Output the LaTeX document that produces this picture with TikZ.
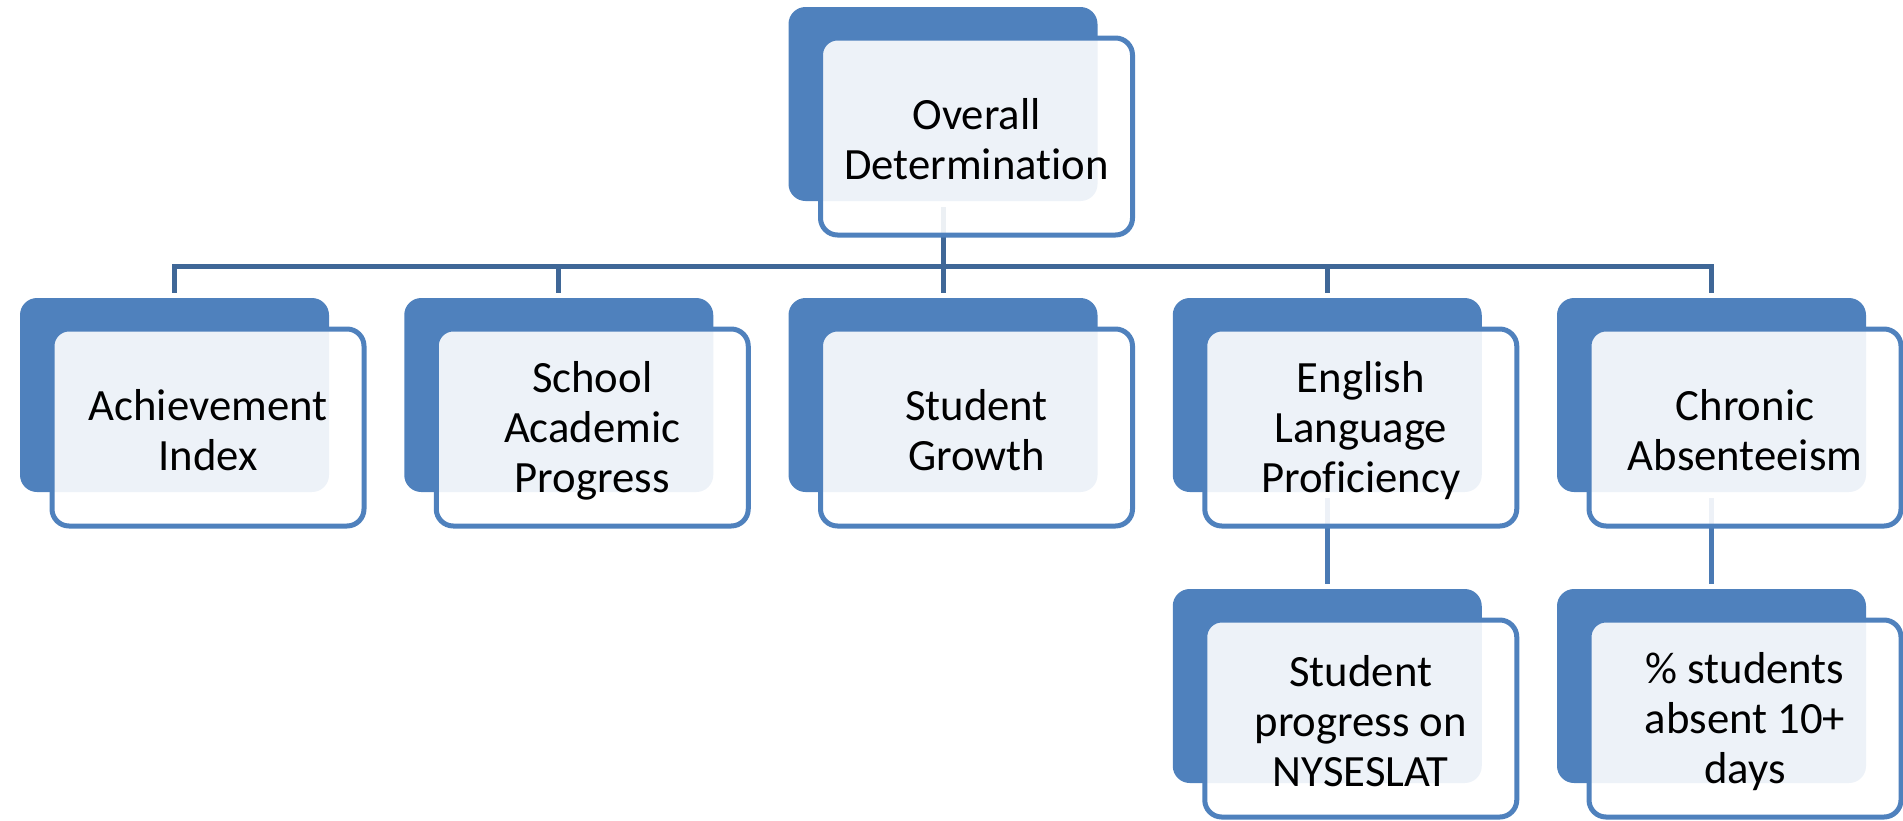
\documentclass[tikz,border=0pt]{standalone}
\usepackage{fontspec}
\setmainfont{Carlito}[Ligatures={NoCommon}]
\definecolor{accent}{HTML}{4F81BD}
\definecolor{connA}{HTML}{3F6797}
\definecolor{connB}{HTML}{4A7AB4}
\begin{document}
\begin{tikzpicture}[x=1pt,y=-1pt,
  backbox/.style={rectangle, rounded corners=17pt, fill=accent, minimum width=309pt, minimum height=194pt, inner sep=0pt, outer sep=0pt, anchor=north west},
  frontbox/.style={rectangle, rounded corners=17pt, draw=accent, line width=5pt, fill=white, fill opacity=0.9, minimum width=312pt, minimum height=197pt, inner sep=0pt, outer sep=0pt, anchor=north west},
  boxtext/.style={align=center, inner sep=0pt, font=\fontsize{44.7}{50}\selectfont, text=black},
  conn/.style={draw=connA, line width=5pt},
  subconn/.style={draw=connB, line width=5pt}]
\useasboundingbox (0,0) rectangle (1903,820);
% back boxes
\node[backbox] (ODb) at (788.5,7) {};
\node[backbox] (AIb) at (20,298) {};
\node[backbox] (SAPb) at (404.25,298) {};
\node[backbox] (SGb) at (788.5,298) {};
\node[backbox] (ELPb) at (1172.75,298) {};
\node[backbox] (CAb) at (1557,298) {};
\node[backbox] (NYb) at (1172.75,589) {};
\node[backbox] (PSb) at (1557,589) {};
% connectors
\coordinate (bar) at (0,266.5);
\draw[conn] ([yshift=-6pt]ODb.south) -- (ODb.south |- bar) -| ([yshift=5.5pt]AIb.north);
\draw[conn] ([yshift=-6pt]ODb.south) -- (ODb.south |- bar) -| ([yshift=5.5pt]SAPb.north);
\draw[conn] ([yshift=-6pt]ODb.south) -- ([yshift=5.5pt]SGb.north);
\draw[conn] ([yshift=-6pt]ODb.south) -- (ODb.south |- bar) -| ([yshift=5.5pt]ELPb.north);
\draw[conn] ([yshift=-6pt]ODb.south) -- (ODb.south |- bar) -| ([yshift=5.5pt]CAb.north);
\draw[subconn] ([yshift=-6pt]ELPb.south) -- ([yshift=5.5pt]NYb.north);
\draw[subconn] ([yshift=-6pt]CAb.south) -- ([yshift=5.5pt]PSb.north);
% front boxes
\node[frontbox] (OD) at (820.5,38) {};
\node[frontbox] (AI) at (52,329) {};
\node[frontbox] (SAP) at (436.25,329) {};
\node[frontbox] (SG) at (820.5,329) {};
\node[frontbox] (ELP) at (1204.75,329) {};
\node[frontbox] (CA) at (1589,329) {};
\node[frontbox] (NY) at (1204.75,620) {};
\node[frontbox] (PS) at (1589,620) {};
% texts
\node[boxtext] (ODt) at ([yshift=-3pt]OD.center) {Overall\\Determination};
\node[boxtext] (AIt) at ([yshift=-3pt]AI.center) {Achievement\\Index};
\node[boxtext] (SAPt) at ([yshift=-3pt]SAP.center) {School\\Academic\\Progress};
\node[boxtext] (SGt) at ([yshift=-3pt]SG.center) {Student\\Growth};
\node[boxtext] (ELPt) at ([yshift=-3pt]ELP.center) {English\\Language\\Proficiency};
\node[boxtext] (CAt) at ([yshift=-3pt]CA.center) {Chronic\\Absenteeism};
\node[boxtext] (NYt) at ([yshift=-3pt]NY.center) {Student\\progress on\\NYSESLAT};
\node[boxtext] (PSt) at ([yshift=-3pt]PS.center) {\% students\\absent 10+\\days};
\end{tikzpicture}
\end{document}
